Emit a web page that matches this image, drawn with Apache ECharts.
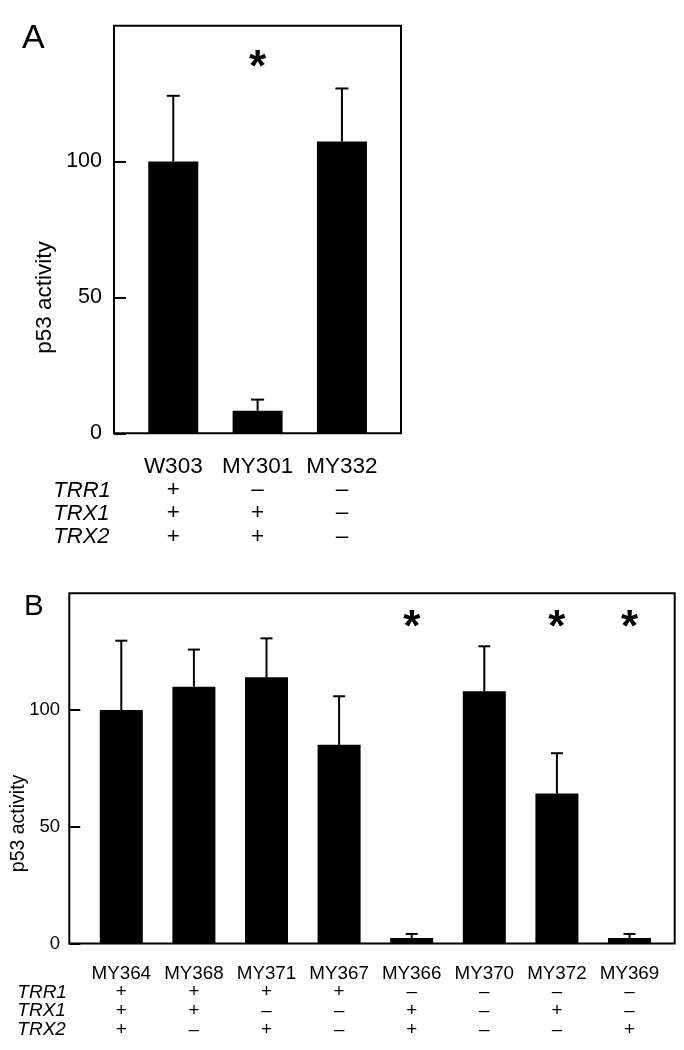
<!DOCTYPE html>
<html>
<head>
<meta charset="utf-8">
<script src="https://cdn.jsdelivr.net/npm/echarts@6/dist/echarts.min.js"></script>
<style>
html,body{margin:0;padding:0;background:#fff;}
#chart{width:684px;height:1050px;}
</style>
</head>
<body>
<div id="chart"></div>
<script>
// ---------- Panel A data ----------
var strainsA = ['W303', 'MY301', 'MY332'];
var valuesA = [100, 8.3, 107.4];
var errA = [24.2, 4.1, 19.5];
var sigA = [false, true, false];
var trr1A = ['+', '\u2013', '\u2013'];
var trx1A = ['+', '+', '\u2013'];
var trx2A = ['+', '+', '\u2013'];

// ---------- Panel B data ----------
var strainsB = ['MY364', 'MY368', 'MY371', 'MY367', 'MY366', 'MY370', 'MY372', 'MY369'];
var valuesB = [100, 110, 114, 85.1, 2.4, 108, 64.2, 2.4];
var errB = [29.7, 15.9, 16.7, 20.8, 1.7, 19.3, 17.3, 1.7];
var sigB = [false, false, false, false, true, false, true, true];
var trr1B = ['+', '+', '+', '+', '\u2013', '\u2013', '\u2013', '\u2013'];
var trx1B = ['+', '+', '\u2013', '\u2013', '+', '\u2013', '+', '\u2013'];
var trx2B = ['+', '\u2013', '+', '\u2013', '+', '\u2013', '\u2013', '+'];

var geneRows = ['TRR1', 'TRX1', 'TRX2'];
var yTicks = [0, 50, 100];
var yMax = 150;
var yInterval = 50;
var yName = 'p53 activity';

var FONT = '"Liberation Sans", Arial, Helvetica, sans-serif';
var STAR_LEVEL_A = 134;
var STAR_LEVEL_B = 134.7;

function errData(vals, errs) {
  return vals.map(function (v, i) { return [i, v, errs[i]]; });
}
function starData(sig) {
  var out = [];
  sig.forEach(function (s, i) { if (s) out.push([i]); });
  return out;
}
function makeErrRender(capW, lw) {
  return function (params, api) {
    var x = api.value(0), v = api.value(1), e = api.value(2);
    var p0 = api.coord([x, v]);
    var p1 = api.coord([x, v + e]);
    return {
      type: 'group',
      children: [
        { type: 'line', shape: { x1: p0[0], y1: p0[1], x2: p1[0], y2: p1[1] }, style: { stroke: '#000', lineWidth: lw } },
        { type: 'line', shape: { x1: p1[0] - capW / 2, y1: p1[1], x2: p1[0] + capW / 2, y2: p1[1] }, style: { stroke: '#000', lineWidth: lw } }
      ]
    };
  };
}
function makeStarRender(level, size) {
  return function (params, api) {
    var p = api.coord([api.value(0), level]);
    return {
      type: 'text',
      style: { x: p[0], y: p[1], text: '*', fill: '#000', font: 'bold ' + size + 'px ' + FONT, align: 'center', verticalAlign: 'middle' }
    };
  };
}
function catLabel(strains, r1, r2, r3) {
  return function (val, idx) {
    return [strains[idx], r1[idx], r2[idx], r3[idx]].join('\n');
  };
}
function yLabel(v) { return yTicks.indexOf(v) >= 0 ? String(v) : ''; }

var option = {
  animation: false,
  backgroundColor: '#fff',
  textStyle: { fontFamily: FONT, color: '#000' },
  title: [
    { text: 'A', left: 22, top: 22, padding: 0, textStyle: { fontFamily: FONT, fontSize: 34, fontWeight: 'normal', color: '#000', lineHeight: 34 } },
    { text: 'B', left: 24, top: 592, padding: 0, textStyle: { fontFamily: FONT, fontSize: 29.5, fontWeight: 'normal', color: '#000', lineHeight: 29.5 } },
    { text: geneRows.join('\n'), left: 53.3, top: 479, padding: 0, textAlign: 'left',
      textStyle: { fontFamily: FONT, fontSize: 22, fontStyle: 'italic', fontWeight: 'normal', color: '#000', lineHeight: 23.3 } },
    { text: geneRows.join('\n'), left: 17.3, top: 983, padding: 0, textAlign: 'left',
      textStyle: { fontFamily: FONT, fontSize: 19, fontStyle: 'italic', fontWeight: 'normal', color: '#000', lineHeight: 18.7 } }
  ],
  grid: [
    { left: 114, top: 25.7, width: 287, height: 407.6, show: true, borderColor: '#000', borderWidth: 2, backgroundColor: 'transparent', outerBoundsMode: 'none', containLabel: false },
    { left: 131.1, top: 25.7, width: 253, height: 407.6, outerBoundsMode: 'none', containLabel: false },
    { left: 69.3, top: 593.3, width: 605.4, height: 350.2, show: true, borderColor: '#000', borderWidth: 2, backgroundColor: 'transparent', outerBoundsMode: 'none', containLabel: false },
    { left: 85, top: 593.3, width: 580.8, height: 350.2, outerBoundsMode: 'none', containLabel: false }
  ],
  xAxis: [
    { gridIndex: 0, type: 'value', show: false, min: 0, max: 1 },
    { gridIndex: 1, type: 'category', data: strainsA, boundaryGap: true,
      axisLine: { show: false }, axisTick: { show: false }, splitLine: { show: false },
      axisLabel: { interval: 0, margin: 21.7, fontFamily: FONT, fontSize: 22.5, lineHeight: 23.3, color: '#000',
        formatter: catLabel(strainsA, trr1A, trx1A, trx2A) } },
    { gridIndex: 2, type: 'value', show: false, min: 0, max: 1 },
    { gridIndex: 3, type: 'category', data: strainsB, boundaryGap: true,
      axisLine: { show: false }, axisTick: { show: false }, splitLine: { show: false },
      axisLabel: { interval: 0, margin: 20.5, fontFamily: FONT, fontSize: 18.8, lineHeight: 18.7, color: '#000',
        formatter: catLabel(strainsB, trr1B, trx1B, trx2B) } }
  ],
  yAxis: [
    { gridIndex: 0, type: 'value', min: 0, max: yMax, interval: yInterval,
      axisLine: { show: false }, splitLine: { show: false },
      axisTick: { show: true, inside: true, length: 12, customValues: yTicks, lineStyle: { color: '#000', width: 2 } },
      axisLabel: { margin: 12, fontFamily: FONT, fontSize: 21.5, color: '#000', formatter: yLabel },
      name: yName, nameLocation: 'middle', nameGap: 58, nameMoveOverlap: false,
      nameTextStyle: { fontFamily: FONT, fontSize: 22.5, color: '#000', padding: [0, 136, 0, 0] } },
    { gridIndex: 1, type: 'value', min: 0, max: yMax, show: false },
    { gridIndex: 2, type: 'value', min: 0, max: yMax, interval: yInterval,
      axisLine: { show: false }, splitLine: { show: false },
      axisTick: { show: true, inside: true, length: 11, customValues: yTicks, lineStyle: { color: '#000', width: 2 } },
      axisLabel: { margin: 9.3, fontFamily: FONT, fontSize: 18.5, color: '#000', formatter: yLabel },
      name: yName, nameLocation: 'middle', nameGap: 41, nameMoveOverlap: false,
      nameTextStyle: { fontFamily: FONT, fontSize: 19.5, color: '#000', padding: [0, 110, 0, 0] } },
    { gridIndex: 3, type: 'value', min: 0, max: yMax, show: false }
  ],
  series: [
    { type: 'bar', xAxisIndex: 1, yAxisIndex: 1, data: valuesA, barWidth: 50, itemStyle: { color: '#000' } },
    { type: 'custom', xAxisIndex: 1, yAxisIndex: 1, data: errData(valuesA, errA), renderItem: makeErrRender(13, 2), z: 5 },
    { type: 'custom', xAxisIndex: 1, yAxisIndex: 1, data: starData(sigA), renderItem: makeStarRender(STAR_LEVEL_A, 44), z: 5 },
    { type: 'bar', xAxisIndex: 3, yAxisIndex: 3, data: valuesB, barWidth: 43, itemStyle: { color: '#000' } },
    { type: 'custom', xAxisIndex: 3, yAxisIndex: 3, data: errData(valuesB, errB), renderItem: makeErrRender(12, 2), z: 5 },
    { type: 'custom', xAxisIndex: 3, yAxisIndex: 3, data: starData(sigB), renderItem: makeStarRender(STAR_LEVEL_B, 44), z: 5 }
  ]
};

var chart = echarts.init(document.getElementById('chart'), null, { renderer: 'canvas' });
chart.setOption(option);
</script>
</body>
</html>
